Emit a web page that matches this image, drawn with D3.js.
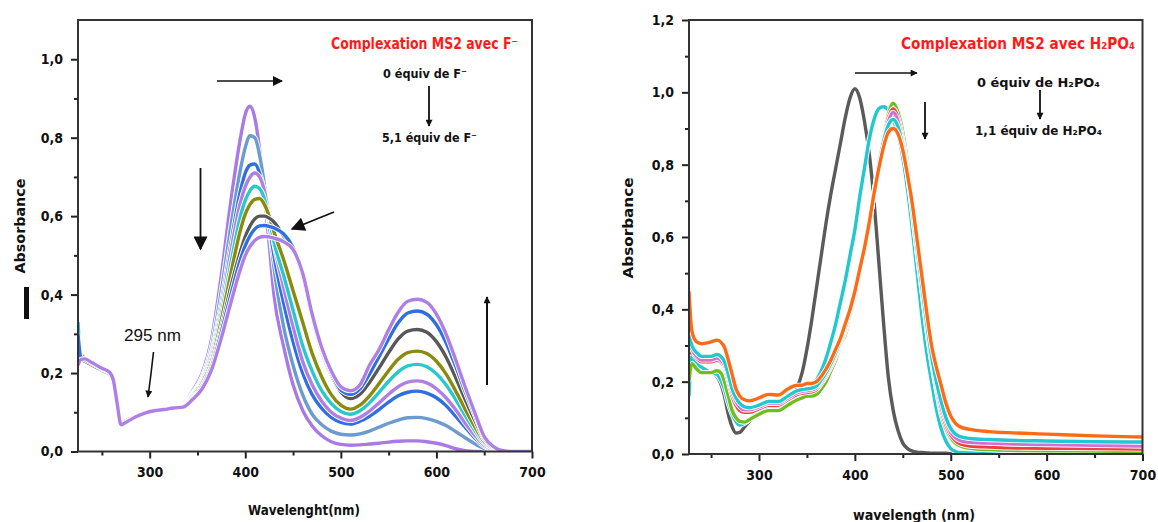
<!DOCTYPE html>
<html><head><meta charset="utf-8">
<script src="https://cdn.jsdelivr.net/npm/d3@7"></script>
<style>
body{margin:0;background:#fff}
svg{display:block}
text{font-family:"Liberation Sans Narrow","DejaVu Sans Condensed",sans-serif;}
</style>
</head><body>
<svg id="c" width="1158" height="522"></svg>
<script>
// ---------- LEFT PANEL DATA (Complexation MS2 avec F-) ----------
const leftWavelengths = [225,228,232,240,250,258,262,266,270,275,285,295,305,315,325,
  335,345,355,365,375,385,395,400,405,410,415,420,425,430,
  440,450,460,470,480,490,500,510,520,530,540,550,560,570,580,590,600,610,620,630,640,650,660,670,680,700];

const fEq0 = [0.30,0.24,0.235,0.225,0.21,0.20,0.18,0.12,0.07,0.075,0.088,0.098,0.105,0.108,0.112,
  0.12,0.155,0.20,0.29,0.45,0.64,0.80,0.86,0.88,0.85,0.77,0.66,0.53,0.40,
  0.27,0.17,0.105,0.065,0.04,0.025,0.018,0.016,0.017,0.019,0.021,0.024,0.026,0.027,0.027,0.025,0.021,0.015,0.007,0.002,0,0,0,0,0,0];
const fEq1 = [0.25,0.235,0.232,0.222,0.208,0.198,0.178,0.118,0.072,0.077,0.09,0.098,0.104,0.107,0.111,
  0.12,0.15,0.19,0.27,0.41,0.575,0.72,0.775,0.805,0.80,0.755,0.68,0.58,0.47,
  0.32,0.22,0.145,0.095,0.068,0.052,0.044,0.042,0.045,0.052,0.062,0.072,0.08,0.086,0.087,0.084,0.077,0.066,0.051,0.035,0.02,0.008,0.002,0,0,0];
const fEq2 = [0.32,0.245,0.235,0.225,0.21,0.20,0.18,0.12,0.075,0.078,0.09,0.10,0.106,0.109,0.113,
  0.118,0.147,0.185,0.255,0.38,0.53,0.665,0.71,0.73,0.733,0.71,0.66,0.58,0.50,
  0.38,0.28,0.20,0.145,0.11,0.087,0.074,0.07,0.077,0.09,0.107,0.126,0.142,0.151,0.154,0.149,0.137,0.117,0.09,0.062,0.035,0.013,0.003,0,0,0];
const fEq3 = [0.33,0.25,0.238,0.226,0.212,0.202,0.182,0.122,0.07,0.075,0.088,0.098,0.105,0.108,0.112,
  0.118,0.145,0.182,0.25,0.365,0.51,0.635,0.675,0.70,0.71,0.70,0.665,0.60,0.53,
  0.42,0.32,0.23,0.17,0.128,0.10,0.085,0.079,0.087,0.103,0.124,0.146,0.165,0.177,0.18,0.175,0.16,0.137,0.107,0.073,0.042,0.016,0.004,0,0,0];
const fEq4 = [0.33,0.24,0.233,0.223,0.209,0.199,0.179,0.12,0.074,0.078,0.09,0.099,0.105,0.108,0.112,
  0.117,0.143,0.178,0.24,0.35,0.48,0.60,0.64,0.665,0.676,0.67,0.645,0.595,0.535,
  0.45,0.36,0.27,0.205,0.155,0.122,0.102,0.095,0.104,0.124,0.151,0.179,0.203,0.218,0.222,0.216,0.198,0.17,0.133,0.092,0.054,0.021,0.006,0.001,0,0];
const fEq5 = [0.28,0.238,0.232,0.222,0.208,0.198,0.178,0.119,0.073,0.077,0.089,0.098,0.104,0.107,0.111,
  0.116,0.14,0.174,0.232,0.335,0.455,0.565,0.605,0.63,0.643,0.645,0.63,0.60,0.56,
  0.49,0.41,0.33,0.25,0.19,0.145,0.118,0.108,0.118,0.142,0.173,0.206,0.235,0.252,0.256,0.25,0.23,0.198,0.155,0.108,0.064,0.025,0.007,0.001,0,0];
const fEq6 = [0.26,0.236,0.23,0.22,0.207,0.197,0.177,0.118,0.074,0.078,0.09,0.099,0.105,0.108,0.112,
  0.115,0.137,0.168,0.222,0.315,0.42,0.51,0.548,0.575,0.593,0.60,0.60,0.595,0.585,
  0.55,0.515,0.445,0.34,0.255,0.195,0.152,0.135,0.146,0.176,0.213,0.252,0.287,0.307,0.311,0.304,0.28,0.241,0.189,0.133,0.08,0.031,0.009,0.002,0,0];
const fEq7 = [0.30,0.24,0.234,0.224,0.21,0.20,0.18,0.12,0.072,0.076,0.089,0.099,0.105,0.108,0.112,
  0.114,0.135,0.165,0.217,0.305,0.40,0.49,0.525,0.55,0.567,0.575,0.576,0.574,0.57,
  0.555,0.52,0.45,0.345,0.26,0.20,0.157,0.146,0.16,0.197,0.242,0.287,0.328,0.353,0.358,0.35,0.323,0.278,0.218,0.153,0.093,0.035,0.01,0.002,0,0];
const fEq8 = [0.22,0.235,0.236,0.226,0.212,0.202,0.182,0.122,0.068,0.074,0.088,0.098,0.104,0.107,0.111,
  0.113,0.133,0.16,0.21,0.29,0.38,0.465,0.50,0.523,0.538,0.546,0.548,0.547,0.544,
  0.535,0.515,0.455,0.35,0.265,0.205,0.165,0.155,0.17,0.22,0.26,0.31,0.355,0.383,0.388,0.38,0.35,0.30,0.235,0.165,0.10,0.038,0.012,0.002,0,0];
const leftSeries = [fEq0,fEq1,fEq2,fEq3,fEq4,fEq5,fEq6,fEq7,fEq8];
const leftColors = ["#a97ae6","#6c9bd0","#2f6fe0","#b07fe6","#28c8cc","#8a8a0c","#585858","#2f6fe0","#b07fe6"];
const leftXTicks = [300,400,500,600,700];
const leftXMinor = [250,350,450,550,650];
const leftYTicks = [0,0.2,0.4,0.6,0.8,1.0];
const leftYMinor = [0.1,0.3,0.5,0.7,0.9];

// ---------- RIGHT PANEL DATA (Complexation MS2 avec H2PO4-) ----------
const rightWavelengths = [227,230,235,240,250,256,260,264,268,272,276,280,285,290,300,310,320,330,340,
  345,350,355,360,365,370,375,380,385,390,395,400,405,410,415,420,425,430,435,440,
  445,450,455,460,465,470,475,480,485,490,495,500,505,510,520,540,560,600,650,700];

const pEq0 = [0.29,0.27,0.245,0.235,0.225,0.215,0.195,0.16,0.11,0.075,0.058,0.06,0.075,0.09,0.12,0.135,0.143,0.15,0.185,
  0.225,0.29,0.37,0.46,0.55,0.64,0.72,0.79,0.86,0.93,0.985,1.01,0.985,0.92,0.83,0.70,0.53,0.36,0.21,0.12,
  0.065,0.03,0.015,0.008,0.005,0.004,0.003,0.002,0.002,0.002,0.002,0.001,0.001,0.001,0.001,0.001,0.001,0.001,0.001,0.001];
const pEq1 = [0.16,0.27,0.25,0.24,0.225,0.22,0.205,0.18,0.14,0.11,0.09,0.08,0.085,0.095,0.115,0.125,0.13,0.14,0.155,
  0.165,0.175,0.19,0.205,0.23,0.265,0.31,0.36,0.42,0.48,0.55,0.62,0.71,0.79,0.87,0.925,0.955,0.96,0.95,0.925,
  0.885,0.82,0.73,0.62,0.50,0.38,0.28,0.20,0.125,0.07,0.035,0.015,0.007,0.004,0.003,0.002,0.002,0.001,0.001,0.001];
const pEq2 = [0.20,0.25,0.235,0.225,0.225,0.23,0.225,0.20,0.16,0.12,0.10,0.09,0.088,0.095,0.11,0.12,0.12,0.135,0.15,
  0.155,0.16,0.16,0.165,0.18,0.20,0.23,0.26,0.30,0.33,0.38,0.43,0.49,0.56,0.64,0.72,0.80,0.88,0.94,0.97,
  0.945,0.89,0.80,0.68,0.56,0.46,0.35,0.26,0.18,0.11,0.07,0.045,0.03,0.022,0.016,0.012,0.01,0.009,0.008,0.007];
const pEq3 = [0.28,0.28,0.265,0.255,0.255,0.26,0.255,0.24,0.20,0.16,0.135,0.12,0.115,0.115,0.125,0.135,0.135,0.15,0.165,
  0.168,0.17,0.172,0.178,0.195,0.215,0.24,0.27,0.305,0.34,0.385,0.435,0.495,0.56,0.64,0.72,0.805,0.875,0.93,0.955,
  0.93,0.87,0.78,0.67,0.555,0.45,0.345,0.255,0.18,0.12,0.08,0.052,0.037,0.028,0.022,0.019,0.017,0.016,0.015,0.014];
const pEq4 = [0.31,0.29,0.27,0.26,0.26,0.265,0.26,0.245,0.21,0.17,0.145,0.13,0.122,0.122,0.13,0.14,0.14,0.155,0.17,
  0.173,0.175,0.177,0.183,0.20,0.22,0.245,0.275,0.31,0.345,0.39,0.44,0.50,0.565,0.64,0.72,0.80,0.87,0.92,0.945,
  0.92,0.86,0.775,0.67,0.56,0.455,0.35,0.26,0.19,0.13,0.09,0.06,0.045,0.037,0.032,0.03,0.028,0.026,0.024,0.022];
const pEq5 = [0.33,0.30,0.28,0.27,0.27,0.275,0.27,0.255,0.22,0.18,0.155,0.14,0.13,0.128,0.135,0.145,0.145,0.16,0.175,
  0.178,0.18,0.182,0.188,0.205,0.225,0.25,0.28,0.315,0.35,0.395,0.445,0.505,0.57,0.645,0.725,0.80,0.865,0.91,0.925,
  0.905,0.85,0.77,0.67,0.565,0.46,0.36,0.27,0.20,0.145,0.10,0.07,0.055,0.048,0.043,0.04,0.038,0.036,0.034,0.033];
const pEq6 = [0.45,0.34,0.31,0.305,0.31,0.315,0.31,0.295,0.26,0.22,0.18,0.16,0.15,0.147,0.155,0.165,0.163,0.18,0.19,
  0.19,0.195,0.195,0.20,0.215,0.235,0.26,0.29,0.32,0.36,0.40,0.45,0.51,0.57,0.64,0.72,0.79,0.85,0.89,0.90,
  0.885,0.84,0.77,0.69,0.59,0.49,0.39,0.30,0.24,0.19,0.14,0.105,0.085,0.075,0.068,0.062,0.059,0.055,0.05,0.047];
const rightSeries = [pEq0,pEq1,pEq2,pEq3,pEq4,pEq5,pEq6];
const rightColors = ["#5a5a5a","#22c8d0","#6cbf1c","#ee4040","#d070d0","#22c8d0","#ff6a14"];
const rightXTicks = [300,400,500,600,700];
const rightXMinor = [250,350,450,550,650];
const rightYTicks = [0,0.2,0.4,0.6,0.8,1.0,1.2];
const rightYMinor = [0.1,0.3,0.5,0.7,0.9,1.1];

// ---------- DRAW ----------
const svg = d3.select("#c");
const defs = svg.append("defs");
function mk(id, w, h){
  defs.append("marker").attr("id",id).attr("markerUnits","userSpaceOnUse")
    .attr("viewBox","0 0 10 10").attr("refX",9).attr("refY",5)
    .attr("markerWidth",w).attr("markerHeight",h).attr("orient","auto")
    .append("path").attr("d","M0,0 L10,5 L0,10 Z").attr("fill","#111");
}
mk("hBig",16,14); mk("hSmall",9,7); mk("hMed",12,10);

const fmtY = d => d3.format(".1f")(d).replace(".", ",");

function panel(cfg){
  const x = d3.scaleLinear().domain(cfg.xDomain).range([cfg.x0,cfg.x1]);
  const y = d3.scaleLinear().domain(cfg.yDomain).range([cfg.y0,cfg.y1]);
  const g = svg.append("g");
  const cid = "clip"+cfg.id;
  defs.append("clipPath").attr("id",cid).append("rect")
    .attr("x",cfg.x0).attr("y",cfg.y1).attr("width",cfg.x1-cfg.x0).attr("height",cfg.y0-cfg.y1);

  const line = d3.line().x((d,i)=>x(cfg.wl[i])).y(d=>y(d)).curve(d3.curveMonotoneX);
  const lg = g.append("g").attr("clip-path",`url(#${cid})`);
  cfg.series.forEach((s,i)=>{
    lg.append("path").attr("d",line(s)).attr("fill","none").attr("stroke","#fff")
      .attr("stroke-width",5.2).attr("stroke-linejoin","round");
    lg.append("path").attr("d",line(s)).attr("fill","none").attr("stroke",cfg.colors[i])
      .attr("stroke-width",3.4).attr("stroke-linejoin","round");
  });

  const axX = g.append("g").attr("transform",`translate(0,${cfg.y0})`)
    .call(d3.axisBottom(x).tickValues(cfg.xTicks).tickFormat(d=>d).tickSize(7).tickPadding(9));
  const axXm = g.append("g").attr("transform",`translate(0,${cfg.y0})`)
    .call(d3.axisBottom(x).tickValues(cfg.xMinor).tickFormat("").tickSize(4));
  const axY = g.append("g").attr("transform",`translate(${cfg.x0},0)`)
    .call(d3.axisLeft(y).tickValues(cfg.yTicks).tickFormat(fmtY).tickSize(7).tickPadding(8));
  const axYm = g.append("g").attr("transform",`translate(${cfg.x0},0)`)
    .call(d3.axisLeft(y).tickValues(cfg.yMinor).tickFormat("").tickSize(4));
  [axX,axXm,axY,axYm].forEach(a=>{
    a.select(".domain").remove();
    a.selectAll(".tick line").attr("stroke","#222").attr("stroke-width",2);
    a.selectAll("text").attr("fill","#111").style("font-size","14px").style("font-weight","bold");
  });
  g.append("rect").attr("x",cfg.x0).attr("y",cfg.y1).attr("width",cfg.x1-cfg.x0)
    .attr("height",cfg.y0-cfg.y1).attr("fill","none").attr("stroke","#333").attr("stroke-width",2);
  return {x,y,g};
}

panel({id:"L", xDomain:[225,700], yDomain:[0,1.1], x0:78, x1:532, y0:451.5, y1:20,
  wl:leftWavelengths, series:leftSeries, colors:leftColors,
  xTicks:leftXTicks, xMinor:leftXMinor, yTicks:leftYTicks, yMinor:leftYMinor});
panel({id:"R", xDomain:[227,700], yDomain:[0,1.2], x0:689, x1:1142.5, y0:454, y1:20,
  wl:rightWavelengths, series:rightSeries, colors:rightColors,
  xTicks:rightXTicks, xMinor:rightXMinor, yTicks:rightYTicks, yMinor:rightYMinor});

function txt(x,y,len,size,fill,weight,str){
  const t = svg.append("text").attr("x",x).attr("y",y).attr("fill",fill)
    .style("font-size",size+"px").style("font-weight",weight||"bold").text(str);
  if(len) t.attr("textLength",len).attr("lengthAdjust","spacingAndGlyphs");
  return t;
}
function arrow(x1,y1,x2,y2,m,w){
  svg.append("line").attr("x1",x1).attr("y1",y1).attr("x2",x2).attr("y2",y2)
    .attr("stroke","#111").attr("stroke-width",w||1.6).attr("marker-end",`url(#${m})`);
}

// Left annotations
txt(331,49,187,16,"#ff1a1a","bold","Complexation MS2 avec F\u207B");
txt(383,78,84,13,"#111","bold","0 équiv de F\u207B");
txt(382,142,95,13,"#111","bold","5,1 équiv de F\u207B");
arrow(429,86,429,126,"hSmall",1.8);
arrow(217,81,282,81,"hMed",1.6);
arrow(200.5,168,200.5,249,"hBig",1.8);
arrow(334,212,292,229,"hBig",1.8);
arrow(487,385,487,297,"hSmall",2);
svg.append("path").attr("d","M153.5,352 Q151,375 148,397").attr("fill","none")
  .attr("stroke","#111").attr("stroke-width",1.6).attr("marker-end","url(#hSmall)");
svg.append("text").attr("x",124).attr("y",341).attr("textLength",57).attr("lengthAdjust","spacingAndGlyphs")
  .style("font-family","'Liberation Sans',Arial,sans-serif").style("font-size","17px").attr("fill","#111").text("295 nm");
svg.append("rect").attr("x",24).attr("y",287).attr("width",5).attr("height",32).attr("fill","#111");
svg.append("text").attr("transform","translate(25,226) rotate(-90)").attr("text-anchor","middle")
  .attr("textLength",95).attr("lengthAdjust","spacingAndGlyphs")
  .style("font-size","14px").style("font-weight","bold").attr("fill","#111").text("Absorbance");
txt(248,515,112,14,"#111","bold","Wavelenght(nm)");

// Right annotations
txt(901,49,234,16,"#ff1a1a","bold","Complexation MS2 avec H\u2082PO\u2084");
txt(977,87,123,13,"#111","bold","0 équiv de H\u2082PO\u2084");
txt(975,135,127,13,"#111","bold","1,1 équiv de H\u2082PO\u2084");
arrow(1040,90,1040,119,"hSmall",1.8);
arrow(855,73,917,73,"hSmall",1.6);
arrow(925,102,925,139,"hSmall",1.8);
svg.append("text").attr("transform","translate(633,228) rotate(-90)").attr("text-anchor","middle")
  .attr("textLength",101).attr("lengthAdjust","spacingAndGlyphs")
  .style("font-size","14px").style("font-weight","bold").attr("fill","#111").text("Absorbance");
txt(853,520,122,14,"#111","bold","wavelength (nm)");
</script>
</body></html>
